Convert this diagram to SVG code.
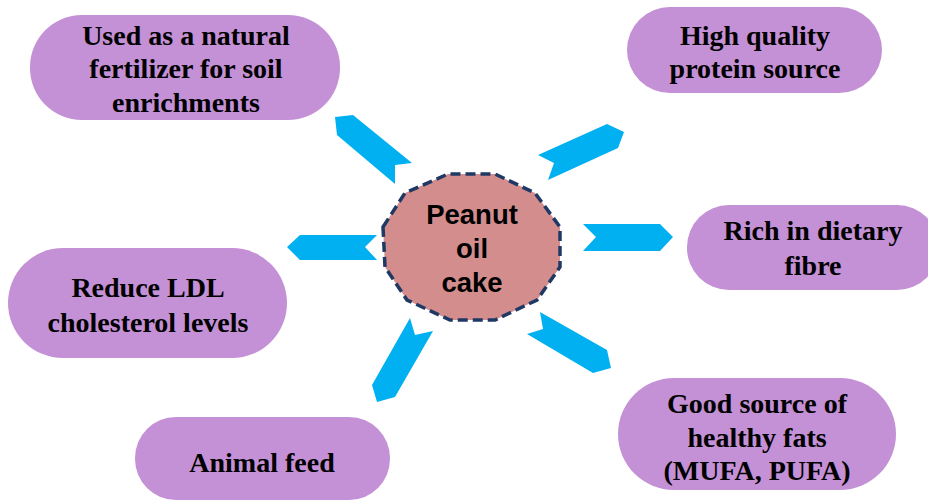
<svg xmlns="http://www.w3.org/2000/svg" width="928" height="501" viewBox="0 0 928 501">
<style>
.pill{fill:#C490D6;}
.t{font-family:"Liberation Serif","Times New Roman",serif;font-weight:bold;font-size:28px;fill:#000;text-anchor:middle;}
.c{font-family:"Liberation Sans",Arial,sans-serif;font-weight:bold;font-size:27.5px;fill:#000;text-anchor:middle;}
.arr{fill:#00B0F0;}
</style>
<rect width="928" height="501" fill="#fff"/>
<g id="connectors">
<polygon class="arr" points="335,117 353,115 412,163 395,165 395,184 337,135"/>
<polygon class="arr" points="538,155 607,124 624,132 618,148 548,180 554,163"/>
<polygon class="arr" points="583,224 660,224 673,237 660,251 583,251 596,237"/>
<polygon class="arr" points="287,247 300,235 377,235 365,247 377,260 300,260"/>
<polygon class="arr" points="410,318 415,335 433,331 395,397 377,402 372,385"/>
<polygon class="arr" points="540,312 543,329 527,334 593,373 611,368 607,350"/>
</g>
<g id="center">
<polygon points="383,227 405,193 448,174 495,174 535,193 560,227 560,267 537,300 495,320 450,320 407,300 385,267" fill="#D38D8D" stroke="#1F3864" stroke-width="3.5" stroke-dasharray="10,5"/>
<text class="c" x="472" y="224">Peanut</text>
<text class="c" x="472" y="258">oil</text>
<text class="c" x="472" y="292">cake</text>
</g>
<g id="fertilizer">
<rect class="pill" x="30" y="15" width="310" height="105" rx="52"/>
<text class="t" x="186" y="45">Used as a natural</text>
<text class="t" x="186" y="78">fertilizer for soil</text>
<text class="t" x="186" y="112">enrichments</text>
</g>
<g id="protein">
<rect class="pill" x="627" y="7" width="255" height="86" rx="43"/>
<text class="t" x="755" y="45">High quality</text>
<text class="t" x="755" y="78">protein source</text>
</g>
<g id="fibre">
<rect class="pill" x="687" y="205" width="252" height="85" rx="42"/>
<text class="t" x="813" y="240">Rich in dietary</text>
<text class="t" x="813" y="275">fibre</text>
</g>
<g id="ldl">
<rect class="pill" x="8" y="248" width="279" height="110" rx="55"/>
<text class="t" x="148" y="297">Reduce LDL</text>
<text class="t" x="148" y="332">cholesterol levels</text>
</g>
<g id="animal">
<rect class="pill" x="135" y="417" width="255" height="83" rx="41"/>
<text class="t" x="262" y="472">Animal feed</text>
</g>
<g id="fats">
<rect class="pill" x="618" y="378" width="278" height="112" rx="56"/>
<text class="t" x="757" y="413">Good source of</text>
<text class="t" x="757" y="447">healthy fats</text>
<text class="t" x="757" y="480">(MUFA, PUFA)</text>
</g>
</svg>
